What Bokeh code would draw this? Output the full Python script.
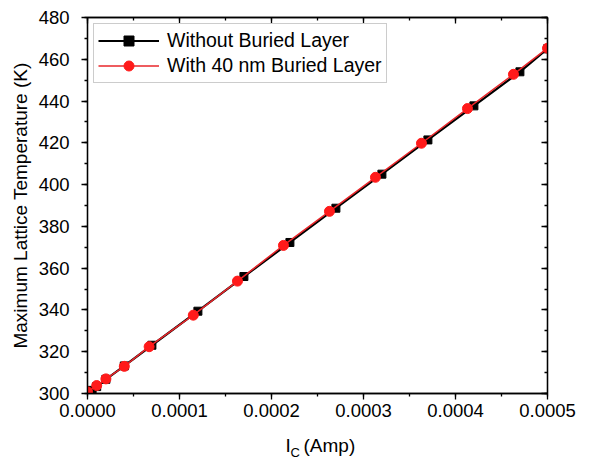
from bokeh.plotting import figure
from bokeh.layouts import column
from bokeh.models import (Range1d, LinearAxis, SingleIntervalTicker, NumeralTickFormatter,
                          CustomJSTickFormatter, Legend, LegendItem, Label)
from bokeh.embed import file_html
from bokeh.resources import INLINE

# Collector current (A) and peak lattice temperature (K)
ic_no_layer = [0.000005, 0.00001, 0.00002, 0.00004, 0.00007, 0.00012, 0.00017,
               0.00022, 0.00027, 0.00032, 0.00037, 0.00042, 0.00047, 0.0005]
temp_no_layer = [301.5, 303.3, 306.8, 313.2, 323.1, 339.4, 356.0,
                 372.3, 388.7, 405.0, 421.4, 437.7, 454.0, 465.0]

ic_buried = [0.0, 0.00001, 0.00002, 0.00004, 0.000067, 0.000115, 0.000163,
             0.000213, 0.000263, 0.000313, 0.000363, 0.000413, 0.000463, 0.0005]
temp_buried = [300.8, 303.8, 307.0, 313.0, 322.4, 337.5, 353.8,
               370.9, 387.2, 403.5, 419.8, 436.4, 452.8, 465.3]

series_labels = ["Without Buried Layer", "With 40 nm Buried Layer"]
y_title = "Maximum Lattice Temperature (K)"

FONT = "Liberation Sans"

p = figure(width=589, height=425, output_backend="svg", toolbar_location=None,
           x_range=Range1d(0, 0.0005), y_range=Range1d(300, 480),
           min_border_left=87, min_border_right=42, min_border_top=17, min_border_bottom=32,
           x_axis_location="below", y_axis_location="left")
p.grid.visible = False
p.outline_line_color = "black"
p.outline_line_width = 1.3
p.background_fill_color = "white"
p.border_fill_color = "white"

x_ticker = SingleIntervalTicker(interval=0.0001, num_minor_ticks=2)
y_ticker = SingleIntervalTicker(interval=20, num_minor_ticks=2)

xa = p.xaxis[0]
xa.ticker = x_ticker
xa.formatter = NumeralTickFormatter(format="0.0000")
ya = p.yaxis[0]
ya.ticker = y_ticker
ya.axis_label = y_title
ya.axis_label_standoff = 5

for ax in (xa, ya):
    ax.axis_line_color = "black"
    ax.axis_line_width = 1.3
    ax.major_tick_line_color = "black"
    ax.minor_tick_line_color = "black"
    ax.major_tick_line_width = 1.3
    ax.minor_tick_line_width = 1.3
    ax.major_tick_in = 0
    ax.major_tick_out = 6
    ax.minor_tick_in = 0
    ax.minor_tick_out = 3
    ax.major_label_text_font = FONT
    ax.major_label_text_font_size = "18.5px"
    ax.major_label_text_color = "black"
    ax.axis_label_text_font = FONT
    ax.axis_label_text_font_size = "19px"
    ax.axis_label_text_font_style = "normal"
    ax.axis_label_text_color = "black"
xa.major_label_standoff = 4
ya.major_label_standoff = 12

# mirrored axes on top and right with inward ticks
blank = CustomJSTickFormatter(code="return ''")
top = LinearAxis(ticker=x_ticker, formatter=blank)
right = LinearAxis(ticker=y_ticker, formatter=blank)
for ax in (top, right):
    ax.axis_line_color = "black"
    ax.axis_line_width = 1.3
    ax.major_tick_line_color = "black"
    ax.minor_tick_line_color = "black"
    ax.major_tick_line_width = 1.3
    ax.minor_tick_line_width = 1.3
    ax.major_tick_in = 6
    ax.major_tick_out = 0
    ax.minor_tick_in = 3
    ax.minor_tick_out = 0
    ax.major_label_standoff = 0
    ax.major_label_text_font_size = "1px"
p.add_layout(top, "above")
p.add_layout(right, "right")

# data series
l1 = p.line(ic_no_layer, temp_no_layer, line_color="black", line_width=2.2)
s1 = p.scatter(ic_no_layer, temp_no_layer, marker="square", size=8,
               fill_color="black", line_color="black")
l2 = p.line(ic_buried, temp_buried, line_color="#e8262a", line_width=1.5)
s2 = p.scatter(ic_buried, temp_buried, marker="circle", size=10,
               fill_color="#ff1a1a", line_color="#ff1a1a")

legend = Legend(items=[LegendItem(label=series_labels[0], renderers=[l1, s1]),
                       LegendItem(label=series_labels[1], renderers=[l2, s2])],
                location="top_left", margin=6, padding=4, spacing=0,
                glyph_width=61, glyph_height=25, label_height=25, label_standoff=8,
                label_text_font=FONT, label_text_font_size="19.5px",
                label_text_color="black",
                border_line_color="#9a9a9a", border_line_width=1.2,
                background_fill_color="white", background_fill_alpha=1.0)
p.add_layout(legend, "center")

# strip underneath holding the x-axis title (I with subscript C);
# its frame lines up with the main frame, so x is measured from the plot's left edge
cap = figure(width=589, height=39, output_backend="svg", toolbar_location=None,
             x_axis_type=None, y_axis_type=None, x_range=Range1d(0, 1), y_range=Range1d(0, 1),
             min_border=0)
cap.grid.visible = False
cap.outline_line_color = None
cap.background_fill_color = "white"
cap.border_fill_color = "white"

title_style = dict(x_units="screen", y_units="screen", text_font=FONT,
                   text_baseline="middle", text_align="left", text_color="black")
cap.add_layout(Label(x=198, y=19, text="I", text_font_size="19px", **title_style))
cap.add_layout(Label(x=203, y=12, text="C", text_font_size="13px", **title_style))
cap.add_layout(Label(x=216, y=19, text="(Amp)", text_font_size="19px", **title_style))

open("out.html", "w").write(file_html(column(p, cap, spacing=0), INLINE))
